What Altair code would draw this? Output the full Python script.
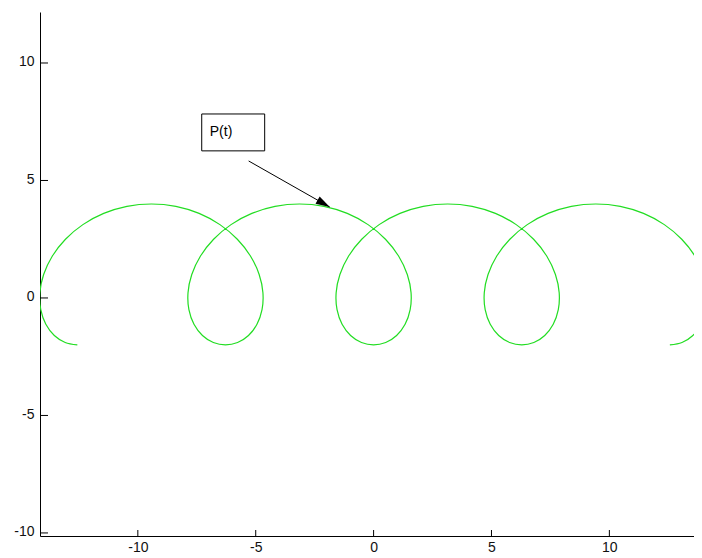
import altair as alt
import pandas as pd

# Curve P(t) (x, y pairs in order along the curve)
curve_x = [
    -12.5664, -13.0811, -13.5428, -13.9023, -14.1173, -14.1552, -13.9956, -13.6316,
    -13.0701, -12.3315, -11.4484, -10.4631, -9.4248, -8.3865, -7.4012, -6.5181,
    -5.7795, -5.2180, -4.8540, -4.6944, -4.7323, -4.9473, -5.3068, -5.7685,
    -6.2832, -6.7979, -7.2596, -7.6191, -7.8341, -7.8720, -7.7124, -7.3484,
    -6.7869, -6.0483, -5.1652, -4.1799, -3.1416, -2.1033, -1.1180, -0.2349,
    0.5037, 1.0652, 1.4292, 1.5888, 1.5509, 1.3359, 0.9764, 0.5147,
    0.0, -0.5147, -0.9764, -1.3359, -1.5509, -1.5888, -1.4292, -1.0652,
    -0.5037, 0.2349, 1.1180, 2.1033, 3.1416, 4.1799, 5.1652, 6.0483,
    6.7869, 7.3484, 7.7124, 7.8720, 7.8341, 7.6191, 7.2596, 6.7979,
    6.2832, 5.7685, 5.3068, 4.9473, 4.7323, 4.6944, 4.8540, 5.2180,
    5.7795, 6.5181, 7.4012, 8.3865, 9.4248, 10.4631, 11.4484, 12.3315,
    13.0701, 13.6316, 13.9956, 14.1552, 14.1173, 13.9023, 13.5428, 13.0811,
    12.5664,
]
curve_y = [
    -2.0, -1.8978, -1.5981, -1.1213, -0.5, 0.2235, 1.0, 1.7765,
    2.5, 3.1213, 3.5981, 3.8978, 4.0, 3.8978, 3.5981, 3.1213,
    2.5, 1.7765, 1.0, 0.2235, -0.5, -1.1213, -1.5981, -1.8978,
    -2.0, -1.8978, -1.5981, -1.1213, -0.5, 0.2235, 1.0, 1.7765,
    2.5, 3.1213, 3.5981, 3.8978, 4.0, 3.8978, 3.5981, 3.1213,
    2.5, 1.7765, 1.0, 0.2235, -0.5, -1.1213, -1.5981, -1.8978,
    -2.0, -1.8978, -1.5981, -1.1213, -0.5, 0.2235, 1.0, 1.7765,
    2.5, 3.1213, 3.5981, 3.8978, 4.0, 3.8978, 3.5981, 3.1213,
    2.5, 1.7765, 1.0, 0.2235, -0.5, -1.1213, -1.5981, -1.8978,
    -2.0, -1.8978, -1.5981, -1.1213, -0.5, 0.2235, 1.0, 1.7765,
    2.5, 3.1213, 3.5981, 3.8978, 4.0, 3.8978, 3.5981, 3.1213,
    2.5, 1.7765, 1.0, 0.2235, -0.5, -1.1213, -1.5981, -1.8978,
    -2.0,
]

x_ticks = [-10, -5, 0, 5, 10]
y_ticks = [-10, -5, 0, 5, 10]
x_domain = [-14.15, 13.59]
y_domain = [-10.13, 12.17]

# Annotation (data coordinates)
box_x1 = [-7.29]
box_x2 = [-4.62]
box_y1 = [7.83]
box_y2 = [6.26]
label_text = ["P(t)"]
label_x = [-6.95]
label_y = [7.08]
arrow_x1 = [-5.30]
arrow_y1 = [5.83]
arrow_x2 = [-1.86]
arrow_y2 = [3.87]

W, H = 654, 524
FONT = "Liberation Sans Narrow, Arial Narrow, Liberation Sans, Arial"

xs = alt.Scale(domain=x_domain, nice=False, zero=False)
ys = alt.Scale(domain=y_domain, nice=False, zero=False)
x_axis = alt.Axis(values=x_ticks, title=None, labelPadding=4, labelExpr="datum.value + ''")
y_axis = alt.Axis(values=y_ticks, title=None, labelPadding=6, labelOffset=-1,
                  labelExpr="datum.value + ''")

curve_df = pd.DataFrame({"i": list(range(len(curve_x))), "x": curve_x, "y": curve_y})

curve = alt.Chart(curve_df).mark_line(
    color="#22dd22", strokeWidth=1.2, interpolate="catmull-rom", clip=True
).encode(
    x=alt.X("x:Q", scale=xs, axis=x_axis),
    y=alt.Y("y:Q", scale=ys, axis=y_axis),
    order="i:Q",
)

box_df = pd.DataFrame({"bx": box_x1, "bx2": box_x2, "by": box_y1, "by2": box_y2})
box = alt.Chart(box_df).mark_rect(fill="white", stroke="black", strokeWidth=1).encode(
    x=alt.X("bx:Q", scale=xs, axis=x_axis),
    x2="bx2:Q",
    y=alt.Y("by:Q", scale=ys, axis=y_axis),
    y2="by2:Q",
)

txt_df = pd.DataFrame({"tx": label_x, "ty": label_y, "t": label_text})
txt = alt.Chart(txt_df).mark_text(
    align="left", baseline="middle", fontSize=14, font="Liberation Sans, Arial", color="black"
).encode(
    x=alt.X("tx:Q", scale=xs, axis=x_axis),
    y=alt.Y("ty:Q", scale=ys, axis=y_axis),
    text="t:N",
)

arr_df = pd.DataFrame({"ax": arrow_x1, "ay": arrow_y1, "ax2": arrow_x2, "ay2": arrow_y2})
arrow = alt.Chart(arr_df).mark_rule(color="black", strokeWidth=1).encode(
    x=alt.X("ax:Q", scale=xs, axis=x_axis),
    y=alt.Y("ay:Q", scale=ys, axis=y_axis),
    x2="ax2:Q",
    y2="ay2:Q",
)
head = alt.Chart(arr_df).mark_point(
    shape="M 0 0 L -2 -0.6 L -2 0.6 Z", size=196, filled=True, color="black",
    opacity=1, angle=29.6,
).encode(
    x=alt.X("ax2:Q", scale=xs, axis=x_axis),
    y=alt.Y("ay2:Q", scale=ys, axis=y_axis),
)

xt = alt.Chart(pd.DataFrame({"xt": x_ticks})).mark_rule(color="black", strokeWidth=1).encode(
    x=alt.X("xt:Q", scale=xs, axis=x_axis),
    y=alt.value(H),
    y2=alt.value(H - 6),
)
yt = alt.Chart(pd.DataFrame({"yt": y_ticks})).mark_rule(color="black", strokeWidth=1).encode(
    y=alt.Y("yt:Q", scale=ys, axis=y_axis),
    x=alt.value(0),
    x2=alt.value(8),
)

chart = alt.layer(curve, box, txt, arrow, head, xt, yt).properties(
    width=W,
    height=H,
    autosize="none",
    padding={"left": 32, "top": 4, "right": 0, "bottom": 20},
    background="white",
).configure_view(stroke=None).configure_axis(
    grid=False,
    ticks=False,
    domainColor="black",
    domainWidth=1,
    labelColor="#111111",
    labelFont=FONT,
    labelFontSize=14,
)

chart.save("out.html", embed_options={"renderer": "svg", "actions": False})
